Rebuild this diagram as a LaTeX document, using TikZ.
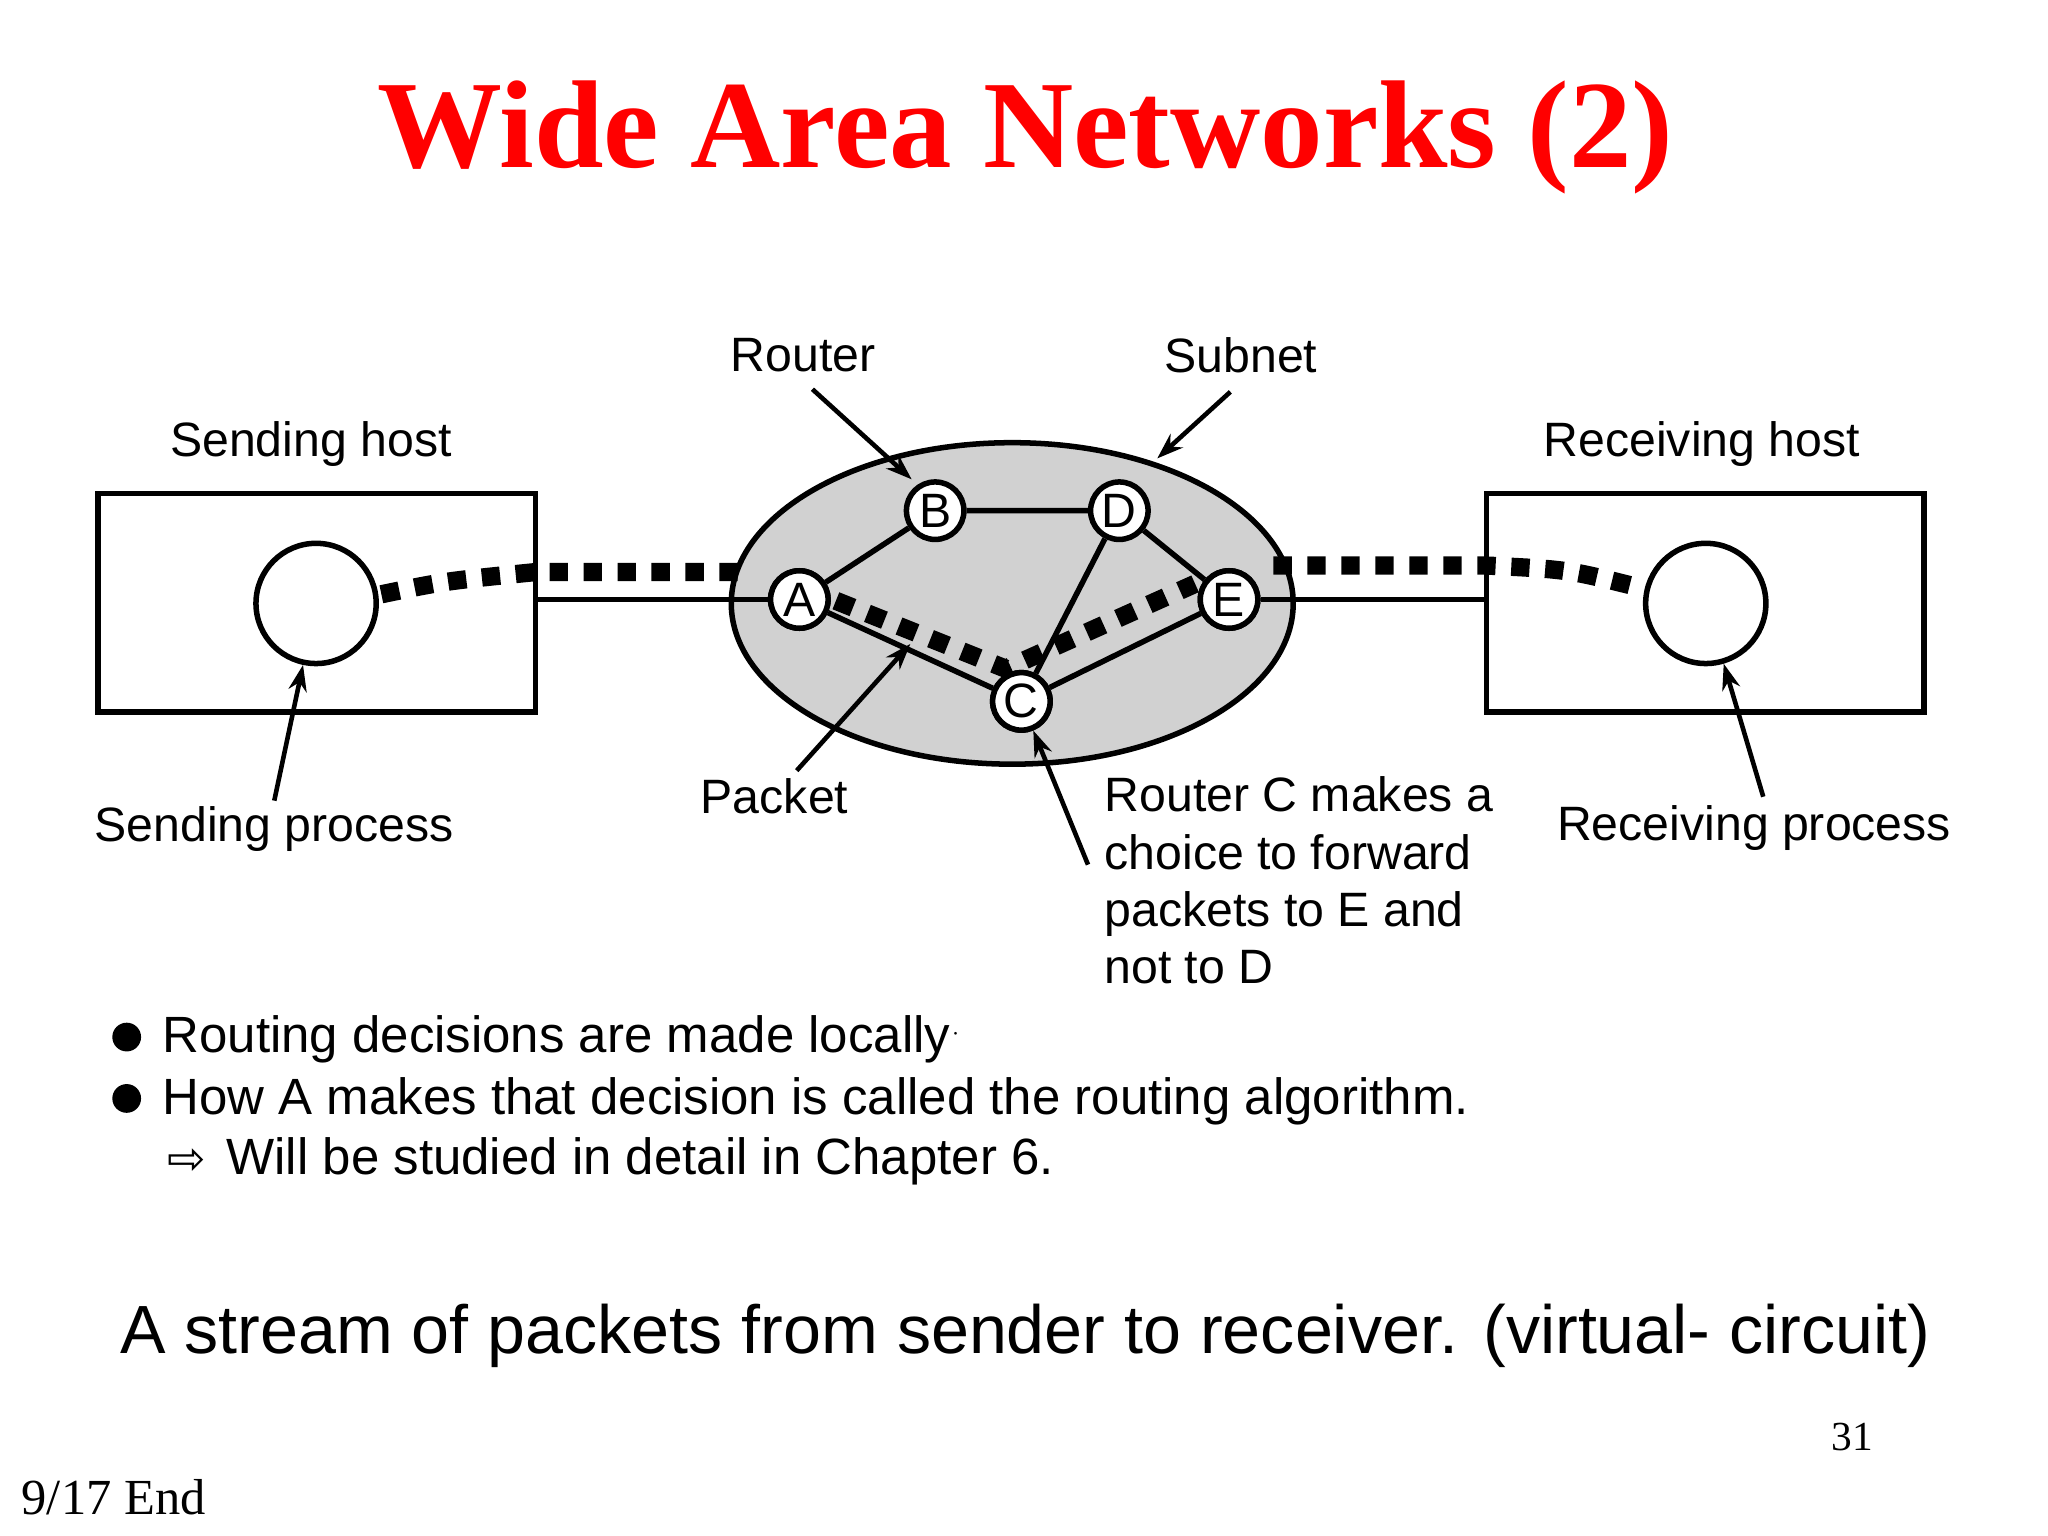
\documentclass[tikz,border=0pt]{standalone}
\usepackage{fontspec}
\setmainfont{Liberation Sans}
\newfontfamily\tmr{Liberation Serif}
\newfontfamily\djv{DejaVu Sans}
\usetikzlibrary{arrows.meta,shapes.geometric}
\begin{document}
\begin{tikzpicture}[x=0.01cm,y=-0.01cm,
  lbl/.style={font=\fontsize{10.5}{12.5}\selectfont},
  rtr/.style={circle,draw,line width=1.2pt,fill=white,minimum size=0.44cm,inner sep=0pt,font=\fontsize{10.5}{12.5}\selectfont},
  proc/.style={circle,draw,line width=1.2pt,minimum size=0.92cm},
  link/.style={line width=1.2pt},
  pkt/.style={line width=0.14cm,dash pattern=on 0.14cm off 0.12cm},
  ptr/.style={line width=1pt,-{Stealth[length=0.2cm,width=0.14cm]}},
  txt/.style={font=\fontsize{11.1}{13.5}\selectfont,anchor=west}]
\useasboundingbox (0,0) rectangle (1568,1176);
% title
\node[text=red,font=\tmr\bfseries\fontsize{27.2}{32}\selectfont] (title) at (785,105) {Wide Area Networks (2)};
% hosts
\draw[link] (75,378) rectangle (410,545);
\draw[link] (1138,378) rectangle (1473,545);
\node[proc] (sp) at (242,462) {};
\node[proc] (rp) at (1306,462) {};
% subnet
\node[ellipse,draw,line width=1.2pt,fill=black!18,minimum width=4.3cm,minimum height=2.46cm] (subnet) at (775,462) {};
\coordinate (lh) at (410,459);
\coordinate (rh) at (1138,459);
\node[rtr] (A) at (612,459) {A};
\node[rtr] (B) at (716,391) {B};
\node[rtr] (D) at (857,391) {D};
\node[rtr] (E) at (941,459) {E};
\node[rtr] (C) at (782,537) {C};
\draw[link] (lh) -- (A);
\draw[link] (E) -- (rh);
\draw[link] (A) -- (B) (B) -- (D) (D) -- (C) (A) -- (C) (C) -- (E) (D) -- (E);
% packet stream
\coordinate (s0) at (292,455);
\coordinate (s1) at (410,438);
\coordinate (s2) at (575,438);
\coordinate (s3) at (640,460);
\coordinate (s4) at (770,512);
\coordinate (s5) at (915,447);
\coordinate (s6) at (975,433);
\coordinate (s7) at (1138,433);
\coordinate (s8) at (1252,449);
\draw[pkt] (s0) .. controls (340,445) .. (s1) -- (s2);
\draw[pkt] (s3) -- (s4) -- (s5);
\draw[pkt] (s6) -- (s7) .. controls (1200,436) .. (s8);
\node[rtr] at (A) {A};
\node[rtr] at (C) {C};
\node[rtr] at (E) {E};
% labels
\node[lbl] (lsh) at (238,340) {Sending host};
\node[lbl] (lrh) at (1303,340) {Receiving host};
\node[lbl] (lr) at (615,272) {Router};
\node[lbl] (ls) at (950,272) {Subnet};
\node[lbl] (lsp) at (210,635) {Sending process};
\node[lbl] (lp) at (593,610) {Packet};
\node[lbl] (lrp) at (1343,634) {Receiving process};
\node[lbl,anchor=north west,align=left,inner sep=0pt] (lc) at (845,594) {Router C makes a\\[0pt]choice to forward\\[0pt]packets to E and\\[0pt]not to D};
% pointers
\coordinate (tr) at (698,367);
\coordinate (ts) at (886,351);
\coordinate (tp) at (697,493);
\draw[ptr] (622,298) -- (tr);
\draw[ptr] (942,300) -- (ts);
\draw[ptr] (210,613) -- (sp);
\draw[ptr] (610,590) -- (tp);
\draw[ptr] (833,662) -- (C);
\draw[ptr] (1350,610) -- (rp);
% bullets
\fill (97,794) circle (0.11cm);
\fill (97,841) circle (0.11cm);
\node[txt] (b1) at (112,796) {Routing decisions are made locally\raisebox{0.5ex}{\tiny$\cdot$}};
\node[txt] (b2) at (112,843) {How A makes that decision is called the routing algorithm.};
\node[font=\djv\fontsize{10}{12}\selectfont] (arr) at (143,889) {⇨};
\node[txt] (b3) at (161,889) {Will be studied in detail in Chapter 6.};
\node[font=\fontsize{14.85}{18}\selectfont] (cap) at (785,1023) {A stream of packets from sender to receiver. (virtual- circuit)};
\node[font=\tmr\fontsize{9}{11}\selectfont] (pg) at (1418,1100) {31};
\node[font=\tmr\fontsize{11}{13}\selectfont] (end) at (87,1146) {9/17 End};
\end{tikzpicture}
\end{document}
